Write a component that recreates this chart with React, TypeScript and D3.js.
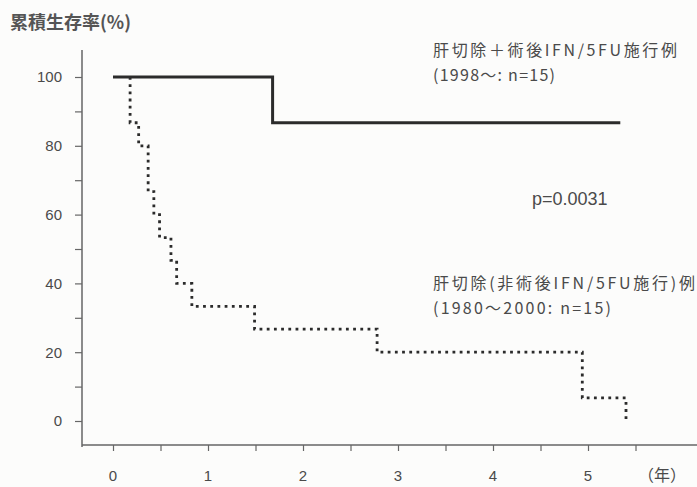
import React, { useEffect, useRef } from 'react';
import * as d3 from 'd3';

// 累積生存率 (Kaplan-Meier), 年単位
const resectIfnTimes = [0, 1.68, 5.34];
const resectIfnSurv = [100, 86.7, 86.7];

const resectOnlyTimes = [0.18, 0.18, 0.27, 0.37, 0.43, 0.49, 0.61, 0.67, 0.83, 1.49, 2.78, 4.94, 5.4];
const resectOnlySurv = [100, 86.7, 80, 66.7, 60, 53.3, 46.7, 40, 33.3, 26.7, 20, 6.7, 0];

const yTicks = [0, 10, 20, 30, 40, 50, 60, 70, 80, 90, 100];
const yLabels = [0, 20, 40, 60, 80, 100];
const xTicks = [0, 0.5, 1, 1.5, 2, 2.5, 3, 3.5, 4, 4.5, 5, 5.5];
const xLabels = [0, 1, 2, 3, 4, 5];

const pValue = 'p=0.0031';
const legend1 = ['肝切除＋術後IFN/5FU施行例', '(1998〜: n=15)'];
const legend1Widths = [244, 122];
const legend2 = ['肝切除(非術後IFN/5FU施行)例', '(1980〜2000: n=15)'];
const legend2Widths = [262, 178];

const width = 697;
const height = 487;
const textColor = '#4a4a4a';
const font = '"Liberation Sans", "Noto Sans CJK JP", sans-serif';
const jpFont = '"Noto Sans CJK JP", sans-serif';

export default function App() {
  const ref = useRef<SVGSVGElement>(null);

  useEffect(() => {
    const svg = d3.select(ref.current);
    svg.selectAll('*').remove();

    const x = d3.scaleLinear().domain([0, 5]).range([113, 588]);
    const y = d3.scaleLinear().domain([0, 100]).range([421, 77]);
    const axisY = 445;
    const axisX = 82;

    svg.append('rect').attr('width', width).attr('height', height).attr('fill', '#fcfcfb');

    // y axis
    svg.append('line')
      .attr('x1', axisX).attr('x2', axisX)
      .attr('y1', 50).attr('y2', axisY + 2)
      .attr('stroke', '#666').attr('stroke-width', 1.5);

    const yAxis = d3.axisLeft(y).tickValues(yTicks).tickSize(7).tickFormat(() => '');
    const gy = svg.append('g').attr('transform', `translate(${axisX},0)`).call(yAxis);
    gy.select('.domain').remove();
    gy.selectAll('line').attr('stroke', '#666').attr('stroke-width', 1.2);

    svg.selectAll('.ylab')
      .data(yLabels)
      .enter().append('text')
      .attr('x', 62)
      .attr('y', d => y(d))
      .attr('dy', '0.36em')
      .attr('text-anchor', 'end')
      .style('font-family', font)
      .style('font-size', '15px')
      .attr('fill', textColor)
      .text(d => d);

    // x axis
    svg.append('line')
      .attr('x1', axisX).attr('x2', width)
      .attr('y1', axisY).attr('y2', axisY)
      .attr('stroke', '#666').attr('stroke-width', 1.5);

    const xAxis = d3.axisBottom(x).tickValues(xTicks).tickSize(6).tickFormat(() => '');
    const gx = svg.append('g').attr('transform', `translate(0,${axisY})`).call(xAxis);
    gx.select('.domain').remove();
    gx.selectAll('line').attr('stroke', '#666').attr('stroke-width', 1.2);

    svg.selectAll('.xlab')
      .data(xLabels)
      .enter().append('text')
      .attr('x', d => x(d))
      .attr('y', 481)
      .attr('text-anchor', 'middle')
      .style('font-family', font)
      .style('font-size', '15px')
      .attr('fill', textColor)
      .text(d => d);

    svg.append('text')
      .attr('x', 638).attr('y', 481)
      .style('font-family', jpFont)
      .style('font-size', '16px')
      .attr('fill', textColor)
      .text('（年）');

    // curves
    const line = d3.line<[number, number]>()
      .x(d => x(d[0]))
      .y(d => y(d[1]))
      .curve(d3.curveStepAfter);

    const solid: [number, number][] = resectIfnTimes.map((t, i) => [t, resectIfnSurv[i]]);
    const dotted: [number, number][] = resectOnlyTimes.map((t, i) => [t, resectOnlySurv[i]]);

    svg.append('path')
      .attr('d', line(solid))
      .attr('fill', 'none')
      .attr('stroke', '#2b2b2b')
      .attr('stroke-width', 3);

    svg.append('path')
      .attr('d', line(dotted))
      .attr('fill', 'none')
      .attr('stroke', '#2b2b2b')
      .attr('stroke-width', 2.8)
      .attr('stroke-dasharray', '2.8 4.4');

    // title
    svg.append('text')
      .attr('x', 10).attr('y', 29)
      .style('font-family', jpFont)
      .style('font-size', '18px')
      .style('font-weight', 'bold')
      .attr('fill', '#555')
      .text('累積生存率(%)');

    const addLegend = (lines: string[], widths: number[], top: number) => {
      lines.forEach((s, i) => {
        svg.append('text')
          .attr('x', 433).attr('y', top + i * 25)
          .attr('textLength', widths[i])
          .attr('lengthAdjust', 'spacing')
          .style('font-family', jpFont)
          .style('font-size', '16px')
          .attr('fill', textColor)
          .text(s);
      });
    };
    addLegend(legend1, legend1Widths, 56);
    addLegend(legend2, legend2Widths, 289);

    svg.append('text')
      .attr('x', 532).attr('y', 205)
      .style('font-family', font)
      .style('font-size', '18px')
      .attr('fill', textColor)
      .text(pValue);
  }, []);

  return (
    <svg
      ref={ref}
      width={width}
      height={height}
      style={{ position: 'absolute', left: 0, top: 0 }}
    />
  );
}
